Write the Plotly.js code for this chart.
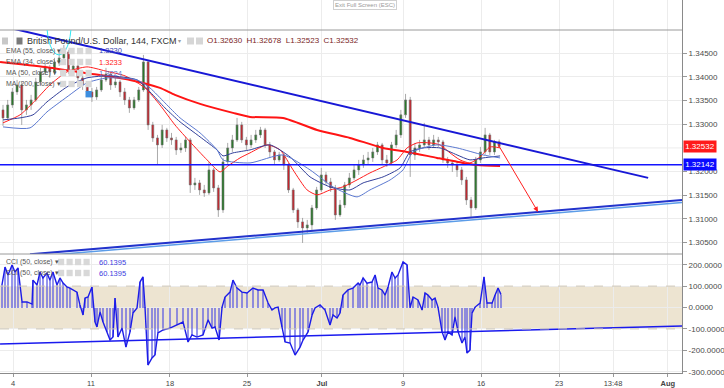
<!DOCTYPE html>
<html><head><meta charset="utf-8">
<script src="https://cdn.plot.ly/plotly-3.0.1.min.js"></script>
<style>html,body{margin:0;padding:0;background:#fff;}#chart{width:724px;height:388px;}</style>
</head><body><div id="chart"></div>
<script>
// x unit: trading days since Mon 4 Jun 2018 (144-minute bars, sampled)
const barDays = [-0.64,-0.34,-0.04,0.26,0.56,0.86,1.16,1.46,1.76,2.06,2.36,2.66,2.96,3.26,3.56,3.86,4.16,4.46,4.76,5.06,5.36,5.66,5.96,6.26,6.56,6.86,7.16,7.46,7.76,8.06,8.36,8.66,8.96,9.26,9.56,9.86,10.16,10.46,10.76,11.06,11.36,11.66,11.96,12.26,12.56,12.86,13.16,13.46,13.76,14.06,14.36,14.66,14.96,15.26,15.56,15.86,16.16,16.46,16.76,17.06,17.36,17.66,17.96,18.26,18.56,18.86,19.16,19.46,19.76,20.06,20.36,20.66,20.96,21.26,21.56,21.86,22.16,22.46,22.76,23.06,23.36,23.66,23.96,24.26,24.56,24.86,25.16,25.46,25.76,26.06,26.36,26.66,26.96,27.26,27.56,27.86,28.16,28.46,28.76,29.06,29.36,29.66,29.96,30.26,30.56,30.86,31.16];
const barOpen = [1.33303,1.33134,1.33408,1.33683,1.33831,1.33303,1.33408,1.33514,1.33894,1.34105,
1.34190,1.34105,1.34316,1.34401,1.34528,1.34148,1.34232,1.33979,1.33831,1.33683,
1.33577,1.33725,1.33936,1.34063,1.33831,1.33894,1.33683,1.33514,1.33345,1.33514,
1.33725,1.34316,1.32986,1.32711,1.32564,1.32880,1.32711,1.32669,1.32458,1.32500,
1.32669,1.31719,1.31761,1.31613,1.31550,1.32036,1.31656,1.31191,1.32205,1.32500,
1.32669,1.32986,1.32669,1.32564,1.32669,1.32775,1.32880,1.32564,1.32416,1.32247,
1.32352,1.32141,1.31613,1.31191,1.30938,1.30811,1.30874,1.31233,1.31613,1.31930,
1.31782,1.31656,1.31085,1.31296,1.31719,1.31867,1.32036,1.32141,1.32247,1.32289,
1.32416,1.32564,1.32247,1.32183,1.32564,1.32775,1.33198,1.33514,1.32352,1.32500,
1.32564,1.32669,1.32564,1.32669,1.32627,1.32247,1.32183,1.32141,1.32036,1.31824,
1.31402,1.31233,1.32247,1.32416,1.32775,1.32416,1.32630];
const barHigh = [1.33408,1.33514,1.33767,1.33936,1.33894,1.33514,1.33620,1.33979,1.34190,1.34295,
1.34253,1.34401,1.34528,1.34675,1.34570,1.34359,1.34316,1.34042,1.33894,1.33767,
1.33788,1.34042,1.34190,1.34105,1.33979,1.33936,1.33767,1.33577,1.33577,1.33788,
1.34464,1.34359,1.33050,1.32775,1.32986,1.32923,1.32817,1.32733,1.32606,1.32733,
1.32711,1.31867,1.31824,1.31719,1.32205,1.32078,1.31719,1.32289,1.32606,1.32775,
1.33134,1.33050,1.32733,1.32775,1.32880,1.32944,1.32923,1.32627,1.32458,1.32416,
1.32395,1.32183,1.31656,1.31233,1.31022,1.30980,1.31296,1.31677,1.32078,1.31994,
1.31867,1.31719,1.31402,1.31782,1.31972,1.32141,1.32247,1.32352,1.32416,1.32500,
1.32627,1.32606,1.32352,1.32627,1.32880,1.33303,1.33641,1.33577,1.32606,1.32669,
1.33029,1.32733,1.32775,1.32733,1.32669,1.32310,1.32247,1.32205,1.32099,1.31888,
1.31466,1.32310,1.32521,1.32923,1.32817,1.32669,1.32678];
const barLow = [1.32965,1.33092,1.33345,1.33620,1.32986,1.33198,1.33303,1.33472,1.33831,1.34042,
1.33979,1.34042,1.34232,1.34316,1.34063,1.34105,1.33894,1.33725,1.33577,1.33472,
1.33514,1.33683,1.33894,1.33725,1.33767,1.33577,1.33408,1.33240,1.33303,1.33472,
1.33683,1.32880,1.32627,1.32141,1.32500,1.32627,1.32564,1.32352,1.32395,1.32416,
1.31550,1.31613,1.31508,1.31466,1.31508,1.31571,1.31043,1.31128,1.32141,1.32416,
1.32627,1.32606,1.32458,1.32500,1.32606,1.32711,1.32500,1.32310,1.32141,1.32205,
1.32036,1.31550,1.31128,1.30811,1.30494,1.30706,1.30769,1.31191,1.31571,1.31719,
1.31571,1.30980,1.31043,1.31233,1.31656,1.31824,1.31930,1.32078,1.32141,1.32205,
1.32352,1.32141,1.32099,1.32141,1.32500,1.32711,1.33134,1.31888,1.32247,1.32416,
1.32500,1.32458,1.32500,1.32521,1.32183,1.32078,1.31994,1.31888,1.31719,1.31296,
1.31043,1.31191,1.32183,1.32352,1.32352,1.32352,1.32523];
const barClose = [1.33134,1.33408,1.33683,1.33831,1.33303,1.33408,1.33514,1.33894,1.34105,1.34190,
1.34105,1.34316,1.34401,1.34528,1.34148,1.34232,1.33979,1.33831,1.33683,1.33577,
1.33725,1.33936,1.34063,1.33831,1.33894,1.33683,1.33514,1.33345,1.33514,1.33725,
1.34316,1.32986,1.32711,1.32564,1.32880,1.32711,1.32669,1.32458,1.32500,1.32669,
1.31719,1.31761,1.31613,1.31550,1.32036,1.31656,1.31191,1.32205,1.32500,1.32669,
1.32986,1.32669,1.32564,1.32669,1.32775,1.32880,1.32564,1.32416,1.32247,1.32352,
1.32141,1.31613,1.31191,1.30938,1.30811,1.30874,1.31233,1.31613,1.31930,1.31782,
1.31656,1.31085,1.31296,1.31719,1.31867,1.32036,1.32141,1.32247,1.32289,1.32416,
1.32564,1.32247,1.32183,1.32564,1.32775,1.33198,1.33514,1.32352,1.32500,1.32564,
1.32669,1.32564,1.32669,1.32627,1.32247,1.32183,1.32141,1.32036,1.31824,1.31402,
1.31233,1.32247,1.32416,1.32775,1.32416,1.32627,1.32532];

const ma200Days = [-0.83,2.05,4.62,7.50,9.42,10.38,11.99,14.10,15.19,17.31,19.49,21.60,23.72,25.26,27.18,28.85,29.74,31.22];
const ma200Vals = [1.34316,1.34211,1.34084,1.33936,1.33767,1.33620,1.33430,1.33240,1.33155,1.33134,1.32880,1.32711,1.32500,1.32416,1.32289,1.32183,1.32141,1.32120];
const ema34Days = [-0.64,0.45,1.28,2.37,3.46,4.74,5.90,7.18,8.46,9.42,10.38,11.35,12.44,13.27,13.78,14.55,15.19,16.28,17.12,17.95,18.85,19.49,20.32,21.15,22.05,22.88,23.72,24.62,25.26,25.90,26.73,27.37,28.01,28.65,29.29,29.94,30.58,31.22];
const ema34Vals = [1.33029,1.33198,1.33451,1.33831,1.34105,1.34211,1.34126,1.34021,1.33767,1.33408,1.32986,1.32627,1.32247,1.31994,1.32120,1.32289,1.32395,1.32564,1.32458,1.32036,1.31613,1.31508,1.31613,1.31677,1.31824,1.31972,1.32099,1.32247,1.32500,1.32606,1.32606,1.32564,1.32395,1.32247,1.32183,1.32310,1.32521,1.32500];
const ema55Days = [-0.64,0.45,1.28,2.18,3.46,4.74,6.22,7.95,8.78,9.74,10.71,11.99,13.08,13.46,14.10,15.19,16.47,17.76,19.04,20.32,21.60,22.44,23.72,24.81,25.45,26.28,27.37,28.46,29.29,30.13,31.22];
const ema55Vals = [1.33092,1.33134,1.33198,1.33472,1.33788,1.33979,1.34021,1.33936,1.33683,1.33345,1.33050,1.32733,1.32458,1.32331,1.32395,1.32458,1.32564,1.32310,1.31888,1.31677,1.31613,1.31761,1.31888,1.32078,1.32416,1.32500,1.32500,1.32352,1.32247,1.32289,1.32331];
const ma50Days = [-0.64,1.09,2.18,3.46,4.74,6.03,7.95,8.78,9.74,10.71,11.99,13.08,13.46,15.19,17.31,19.04,20.51,22.05,22.88,24.17,25.00,25.64,27.18,28.46,30.13,31.22];
const ma50Vals = [1.32944,1.32923,1.33261,1.33577,1.33873,1.33979,1.33936,1.33767,1.33451,1.33134,1.32817,1.32458,1.32247,1.32183,1.32352,1.32036,1.31677,1.31466,1.31613,1.31824,1.32036,1.32416,1.32564,1.32500,1.32352,1.32289];

const hLevel = 1.32142;
const downTrendDays = [-0.19,40.71], downTrendVals = [1.35033,1.31867];
const upTrendDays = [1.09,42.88], upTrendVals = [1.30253,1.31402];
const upTrend2Days = [1.73,42.88], upTrend2Vals = [1.30219,1.31349];
const arrowFrom = [31.03,1.32606], arrowTo = [33.65,1.31149];
const circleDays = [2.18,3.72], circleVals = [1.34464,1.35732];

const cciDays = [-0.71,-0.51,-0.32,-0.06,0.13,0.32,0.58,0.90,1.22,1.28,1.54,1.73,1.92,2.18,2.37,2.56,2.82,3.01,3.21,3.46,3.65,4.10,4.29,4.49,4.62,4.81,5.06,5.26,5.38,5.58,5.77,6.03,6.22,6.41,6.54,6.73,6.99,7.24,7.50,7.69,7.95,8.14,8.33,8.46,8.65,8.91,9.10,9.29,9.62,10.06,10.51,10.90,11.22,11.47,11.79,12.18,12.50,12.76,12.95,13.21,13.40,13.59,13.91,14.10,14.36,14.68,15.00,15.38,15.71,16.03,16.35,16.60,16.79,16.99,17.24,17.44,17.76,18.08,18.40,18.59,18.91,19.17,19.36,19.68,20.00,20.32,20.51,20.77,20.96,21.15,21.47,21.79,22.12,22.24,22.44,22.69,23.01,23.21,23.40,23.65,23.85,24.04,24.29,24.49,24.68,25.00,25.26,25.45,25.64,25.96,26.22,26.41,26.60,26.86,27.05,27.24,27.50,27.69,27.88,28.14,28.33,28.53,28.78,28.97,29.10,29.29,29.42,29.62,29.94,30.19,30.38,30.71,30.90,31.09,31.28];
const cciVals = [105,189,152,199,166,185,26,26,16,128,105,166,138,161,128,166,105,138,114,96,91,72,12,-35,44,49,96,-68,-91,-21,-68,-114,-152,-138,44,-138,-96,-185,-114,-26,-2,119,143,2,-269,-236,-222,-119,-105,-96,-82,-68,-161,-128,-138,-128,-58,-96,-91,-152,2,49,72,128,91,72,68,91,82,82,21,-12,-2,2,-91,-161,-166,-222,-185,-152,-114,-35,-2,12,-12,-82,-35,-49,-26,58,82,91,114,105,138,114,119,152,91,82,58,96,166,138,152,213,199,-2,49,35,-12,68,58,35,44,2,-114,-152,-114,-128,-44,-114,-166,-138,-213,-199,-26,2,21,143,21,21,58,91,60.1395];
const cciTrendDays = [-0.83,42.88], cciTrendVals = [-171,-86];
const cciBand = [-100,100];

const tickDays = [0,5,10.06,15,19.8,25,30,35,38.46,41.97];
const tickLabels = ['4','11','18','25','<b>Jul</b>','9','16','23','13:48','<b>Aug</b>'];
const priceTicks = [1.305,1.31,1.315,1.32,1.33,1.335,1.34,1.345];
const priceGridExtra = [1.325];
const cciTicks = [200,100,0,-100,-200,-300];
const cciTickText = ['200.0000','100.0000','0.0000','-100.0000','-200.0000','-300.0000'];

// ---------- drawing ----------
const W = 682, H = 373; // plot area in px
const PX = x => x / W, PY = y => (H - y) / H;
const FONT = 'Liberation Sans, Arial, sans-serif';
const last = barClose.length - 1;

const traces = [
  {type:'scatter', x:[], y:[], xaxis:'x', yaxis:'y3', hoverinfo:'skip'},
  {type:'candlestick', x:barDays, open:barOpen, high:barHigh, low:barLow, close:barClose,
   xaxis:'x', yaxis:'y', whiskerwidth:0, hoverinfo:'skip',
   increasing:{line:{color:'#707070', width:0.6}, fillcolor:'#267a26'},
   decreasing:{line:{color:'#707070', width:0.6}, fillcolor:'#c8222a'}},
  {type:'scatter', mode:'lines', x:ma200Days, y:ma200Vals, xaxis:'x', yaxis:'y', line:{color:'#ff1414', width:2, shape:'spline', smoothing:0.6}, hoverinfo:'skip'},
  {type:'scatter', mode:'lines', x:ema34Days, y:ema34Vals, xaxis:'x', yaxis:'y', line:{color:'#ff2020', width:1, shape:'spline', smoothing:0.6}, hoverinfo:'skip'},
  {type:'scatter', mode:'lines', x:ema55Days, y:ema55Vals, xaxis:'x', yaxis:'y', line:{color:'#33409a', width:1, shape:'spline', smoothing:0.6}, hoverinfo:'skip'},
  {type:'scatter', mode:'lines', x:ma50Days, y:ma50Vals, xaxis:'x', yaxis:'y', line:{color:'#5a78d0', width:1, shape:'spline', smoothing:0.6}, hoverinfo:'skip'},
  {type:'scatter', mode:'lines', x:[-0.833,42.88], y:[hLevel,hLevel], xaxis:'x', yaxis:'y', line:{color:'#1414ff', width:1.5}, hoverinfo:'skip'},
  {type:'scatter', mode:'lines', x:downTrendDays, y:downTrendVals, xaxis:'x', yaxis:'y', line:{color:'#1818d6', width:2}, hoverinfo:'skip'},
  {type:'scatter', mode:'lines', x:upTrend2Days, y:upTrend2Vals, xaxis:'x', yaxis:'y', line:{color:'#5b9ce8', width:1.5}, hoverinfo:'skip'},
  {type:'scatter', mode:'lines', x:upTrendDays, y:upTrendVals, xaxis:'x', yaxis:'y', line:{color:'#2233cc', width:2}, hoverinfo:'skip'},
  {type:'bar', x:cciDays, y:cciVals, base:0, width:0.1, xaxis:'x', yaxis:'y2', marker:{color:'rgba(80,80,225,0.6)', line:{width:0}}, hoverinfo:'skip'},
  {type:'scatter', mode:'lines', x:cciDays, y:cciVals, xaxis:'x', yaxis:'y2', line:{color:'#1c1ce8', width:1.4}, hoverinfo:'skip'},
  {type:'scatter', mode:'lines', x:cciTrendDays, y:cciTrendVals, xaxis:'x', yaxis:'y2', line:{color:'#1a1aee', width:1.5}, hoverinfo:'skip'}
];

const shapes = [
  {type:'rect', xref:'paper', yref:'y2', x0:0, x1:1, y0:cciBand[0], y1:cciBand[1], fillcolor:'rgba(222,206,172,0.55)', line:{width:0}, layer:'below'},
  {type:'line', xref:'paper', yref:'y2', x0:0, x1:1, y0:cciBand[1], y1:cciBand[1], line:{color:'#cfc6b4', width:1, dash:'dash'}},
  {type:'line', xref:'paper', yref:'y2', x0:0, x1:1, y0:cciBand[0], y1:cciBand[0], line:{color:'#cfc6b4', width:1, dash:'dash'}},
  {type:'line', xref:'paper', yref:'paper', x0:0, x1:1, y0:PY(30), y1:PY(30), line:{color:'#9a9a9a', width:1}},
  {type:'line', xref:'paper', yref:'paper', x0:0, x1:1, y0:PY(254), y1:PY(254), line:{color:'#9a9a9a', width:1}},
  {type:'circle', xref:'x', yref:'y', x0:circleDays[0], x1:circleDays[1], y0:circleVals[0], y1:circleVals[1], line:{color:'#2ee6f2', width:1}}
];
priceGridExtra.forEach(v => shapes.push({type:'line', xref:'paper', yref:'y', x0:0, x1:1, y0:v, y1:v, line:{color:'#ececec', width:1}, layer:'below'}));
function icon(x0, y0, w, h, c) {
  shapes.push({type:'rect', xref:'paper', yref:'paper', x0:PX(x0), x1:PX(x0+w), y0:PY(y0+h), y1:PY(y0), fillcolor:c, line:{width:0}});
}
icon(2, 37.5, 6, 7, '#c8c8c8'); icon(16.5, 37.5, 6, 7, '#7a7a7a');
icon(187, 37.5, 7, 7, '#d6d6d6'); icon(196, 37.5, 7, 7, '#d6d6d6');
[51, 62, 73, 84].forEach(yc => { [60, 68.5, 77, 85.5].forEach(x => icon(x, yc - 3.2, 6.2, 6.4, '#d8d8d8')); });
icon(85.5, 91, 6.2, 6.4, '#3d8fe0');
[262, 273].forEach(yc => { [58, 66.5, 75, 83.5].forEach(x => icon(x, yc - 3.2, 6.2, 6.4, '#d8d8d8')); });

const ann = [];
function txt(x, y, t, size, color, anchor) {
  ann.push({xref:'paper', yref:'paper', x:PX(x), y:PY(y), text:t, showarrow:false, xanchor:anchor||'left', yanchor:'middle', font:{family:FONT, size:size, color:color}});
}
txt(25, 41, 'British Pound/U.S. Dollar, 144, FXCM', 9, '#333333');
txt(176, 41, '▾', 6, '#999999');
const f5 = v => v.toFixed(5);
txt(205, 41, 'O' + f5(barOpen[last]) + '  H' + f5(barHigh[last]) + '  L' + f5(barLow[last]) + '  C' + f5(barClose[last]), 8, '#7a2626');
txt(4, 51, 'EMA (55, close) ▾', 7, '#555555');
txt(4, 62, 'EMA (34, close) ▾', 7, '#555555');
txt(4, 73, 'MA (50, close) ▾', 7, '#555555');
txt(4, 84, 'MA (200, close) ▾', 7, '#555555');
txt(97, 51, '1.3230', 7.5, '#3a48b0');
txt(97, 62, '1.3233', 7.5, '#ff2020');
txt(97, 73, '1.3224', 7.5, '#5a78d0');
txt(4, 262, 'CCI (50, close) ▾', 7, '#555555');
txt(4, 273, 'CCI (50, close) ▾', 7, '#555555');
txt(97, 262, cciVals[cciVals.length-1].toFixed(4), 7.5, '#4040e0');
txt(97, 273, cciVals[cciVals.length-1].toFixed(4), 7.5, '#4040e0');
ann.push({xref:'paper', yref:'paper', x:PX(365), y:1, yanchor:'top', xanchor:'center', text:'Exit Full Screen (ESC)', showarrow:false,
  font:{family:FONT, size:6, color:'#999'}, bgcolor:'#fff', bordercolor:'#d0d0d0', borderwidth:1, borderpad:1});
ann.push({xref:'paper', yref:'y', x:1, y:barClose[last], xanchor:'left', yanchor:'middle', text:f5(barClose[last]), showarrow:false,
  font:{family:FONT, size:8, color:'#fff'}, bgcolor:'#ff1a1a', borderpad:1.2, xshift:1});
ann.push({xref:'paper', yref:'y', x:1, y:hLevel, xanchor:'left', yanchor:'middle', text:f5(hLevel), showarrow:false,
  font:{family:FONT, size:8, color:'#fff'}, bgcolor:'#0a0aff', borderpad:1.2, xshift:1});
ann.push({xref:'x', yref:'y', x:arrowTo[0], y:arrowTo[1], axref:'x', ayref:'y', ax:arrowFrom[0], ay:arrowFrom[1], text:'', showarrow:true,
  arrowhead:2, arrowsize:1, arrowwidth:1, arrowcolor:'#ff2020'});

const axisFont = {family:FONT, size:8, color:'#4a4a4a'};
const layout = {
  width:724, height:388, margin:{l:0, r:42, t:0, b:15}, paper_bgcolor:'#fff', plot_bgcolor:'#fff',
  showlegend:false, hovermode:false, dragmode:false, boxgap:0.4, bargap:0,
  xaxis:{domain:[0,1], range:[-0.833,42.88], anchor:'y2', tickmode:'array', tickvals:tickDays, ticktext:tickLabels,
    showgrid:true, gridcolor:'#ececec', gridwidth:1, ticks:'outside', ticklen:3, tickcolor:'#999', showline:true, linecolor:'#8a8a8a',
    zeroline:false, rangeslider:{visible:false}, fixedrange:true, tickfont:{family:FONT, size:7.5, color:'#444'}},
  yaxis:{domain:[PY(254), PY(30)], range:[1.3026,1.3499], side:'right', anchor:'x', tickmode:'array', tickvals:priceTicks,
    ticktext:priceTicks.map(f5),
    showgrid:true, gridcolor:'#ececec', ticks:'outside', ticklen:4, tickcolor:'#999', showline:true, linecolor:'#8a8a8a',
    zeroline:false, fixedrange:true, tickfont:axisFont},
  yaxis2:{domain:[0, PY(254)], range:[-306,250], side:'right', anchor:'x', tickmode:'array', tickvals:cciTicks, ticktext:cciTickText,
    showgrid:true, gridcolor:'#ececec', ticks:'outside', ticklen:4, tickcolor:'#999', showline:true, linecolor:'#8a8a8a',
    zeroline:false, fixedrange:true, tickfont:axisFont},
  yaxis3:{domain:[PY(30), 1], range:[0,1], side:'right', anchor:'x', showticklabels:false, showgrid:false, ticks:'',
    showline:true, linecolor:'#8a8a8a', zeroline:false, fixedrange:true},
  shapes:shapes, annotations:ann
};
Plotly.newPlot('chart', traces, layout, {displayModeBar:false, staticPlot:true});
</script></body></html>
